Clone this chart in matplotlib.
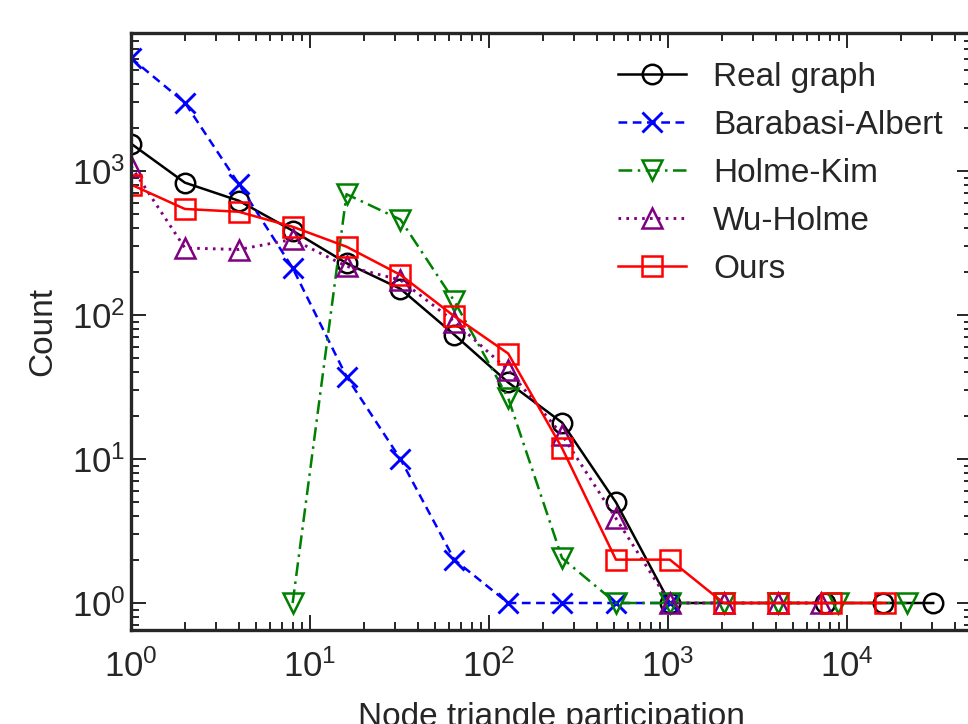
import matplotlib
matplotlib.use("Agg")
import matplotlib.pyplot as plt
from matplotlib.ticker import LogLocator, NullFormatter

# ---- data ----
real_x = [1, 2, 4, 8, 16, 32, 64, 128, 256, 512, 1024, 7540, 15850, 30300]
real_y = [1550, 830, 622, 385, 229, 152, 73, 34, 17.9, 5.0, 1, 1, 1, 1]

ba_x = [1, 2, 4, 8, 16, 32, 64, 128, 256, 512, 1024]
ba_y = [6090, 2980, 812, 212, 37.3, 10, 2.0, 1, 1, 1, 1]

hk_x = [8, 16, 32, 64, 128, 256, 512, 1024, 2048, 4096, 8900, 21500]
hk_y = [1, 690, 460, 125, 26.5, 2.05, 1, 1, 1, 1, 1, 1]

wh_x = [1, 2, 4, 8, 16, 32, 64, 128, 256, 512, 1024, 2048, 4096, 7160]
wh_y = [1080, 292, 285, 335, 218, 175, 90, 41.5, 14.7, 3.87, 1, 1, 1, 1]

ours_x = [1, 2, 4, 8, 16, 32, 64, 128, 256, 512, 1024, 2048, 4096, 8192, 16384]
ours_y = [805, 545, 521, 410, 298, 190, 98, 54, 11.9, 2, 2, 1, 1, 1, 1]

labels = ["Real graph", "Barabasi-Albert", "Holme-Kim", "Wu-Holme", "Ours"]

# ---- style ----
TXT = "#262626"
plt.rcParams["font.family"] = ["Liberation Sans", "DejaVu Sans"]
plt.rcParams["mathtext.fontset"] = "custom"
plt.rcParams["mathtext.rm"] = "Liberation Sans"
plt.rcParams["mathtext.it"] = "Liberation Sans:italic"
plt.rcParams["mathtext.bf"] = "Liberation Sans:bold"
plt.rcParams["text.color"] = TXT
plt.rcParams["axes.labelcolor"] = TXT
plt.rcParams["xtick.color"] = TXT
plt.rcParams["ytick.color"] = TXT

fig = plt.figure(figsize=(9.68, 7.24), dpi=100)
W, H = 968, 724
L, R, T, B = 131, 972, 33, 630
ax = fig.add_axes([L / W, 1 - B / H, (R - L) / W, (B - T) / H])

lw = 1.8
mew = 1.8
ax.plot(real_x, real_y, color="black", ls="-", lw=lw, marker="o", ms=14,
        mfc="none", mew=mew, label=labels[0])
ax.plot(ba_x, ba_y, color="blue", ls=(0, (3.5, 2.2)), lw=lw, marker="x", ms=14,
        mew=mew + 0.3, label=labels[1])
ax.plot(hk_x, hk_y, color="green", ls=(0, (5.5, 2.2, 1.0, 2.2)), lw=lw, marker="v", ms=14,
        mfc="none", mew=mew, label=labels[2])
ax.plot(wh_x, wh_y, color="purple", ls=(0, (0.9, 1.8)), lw=lw + 0.3, marker="^", ms=14,
        mfc="none", mew=mew, label=labels[3])
ax.plot(ours_x, ours_y, color="red", ls="-", lw=lw, marker="s", ms=14,
        mfc="none", mew=mew, label=labels[4])

ax.set_xscale("log")
ax.set_yscale("log")
ax.set_xlim(1, 10 ** ((R - L) / 179.0))
ax.set_ylim(10 ** (-(B - 603) / 144.0), 10 ** ((603 - T) / 144.0))

ax.xaxis.set_major_locator(LogLocator(base=10, numticks=10))
ax.yaxis.set_major_locator(LogLocator(base=10, numticks=10))
ax.xaxis.set_minor_locator(LogLocator(base=10, subs=range(2, 10), numticks=20))
ax.yaxis.set_minor_locator(LogLocator(base=10, subs=range(2, 10), numticks=20))
ax.xaxis.set_minor_formatter(NullFormatter())
ax.yaxis.set_minor_formatter(NullFormatter())

ax.tick_params(which="both", direction="in", top=True, right=True, labelsize=25,
               width=1.4, color=TXT)
ax.tick_params(which="major", length=11)
ax.tick_params(which="minor", length=6)
ax.tick_params(axis="x", which="major", pad=14)
ax.tick_params(axis="y", which="major", pad=4)
for s in ax.spines.values():
    s.set_linewidth(2.4)
    s.set_color(TXT)

ax.set_xlabel("Node triangle participation", fontsize=24, labelpad=13)
ax.set_ylabel("Count", fontsize=24, labelpad=10)

leg = ax.legend(loc="upper left", bbox_to_anchor=(618 / W, 1 - 62 / H),
                bbox_transform=fig.transFigure, frameon=False, fontsize=24,
                handlelength=2.05, handletextpad=0.8, labelspacing=0.51,
                borderpad=0, borderaxespad=0)

fig.savefig("out.png", dpi=100)
